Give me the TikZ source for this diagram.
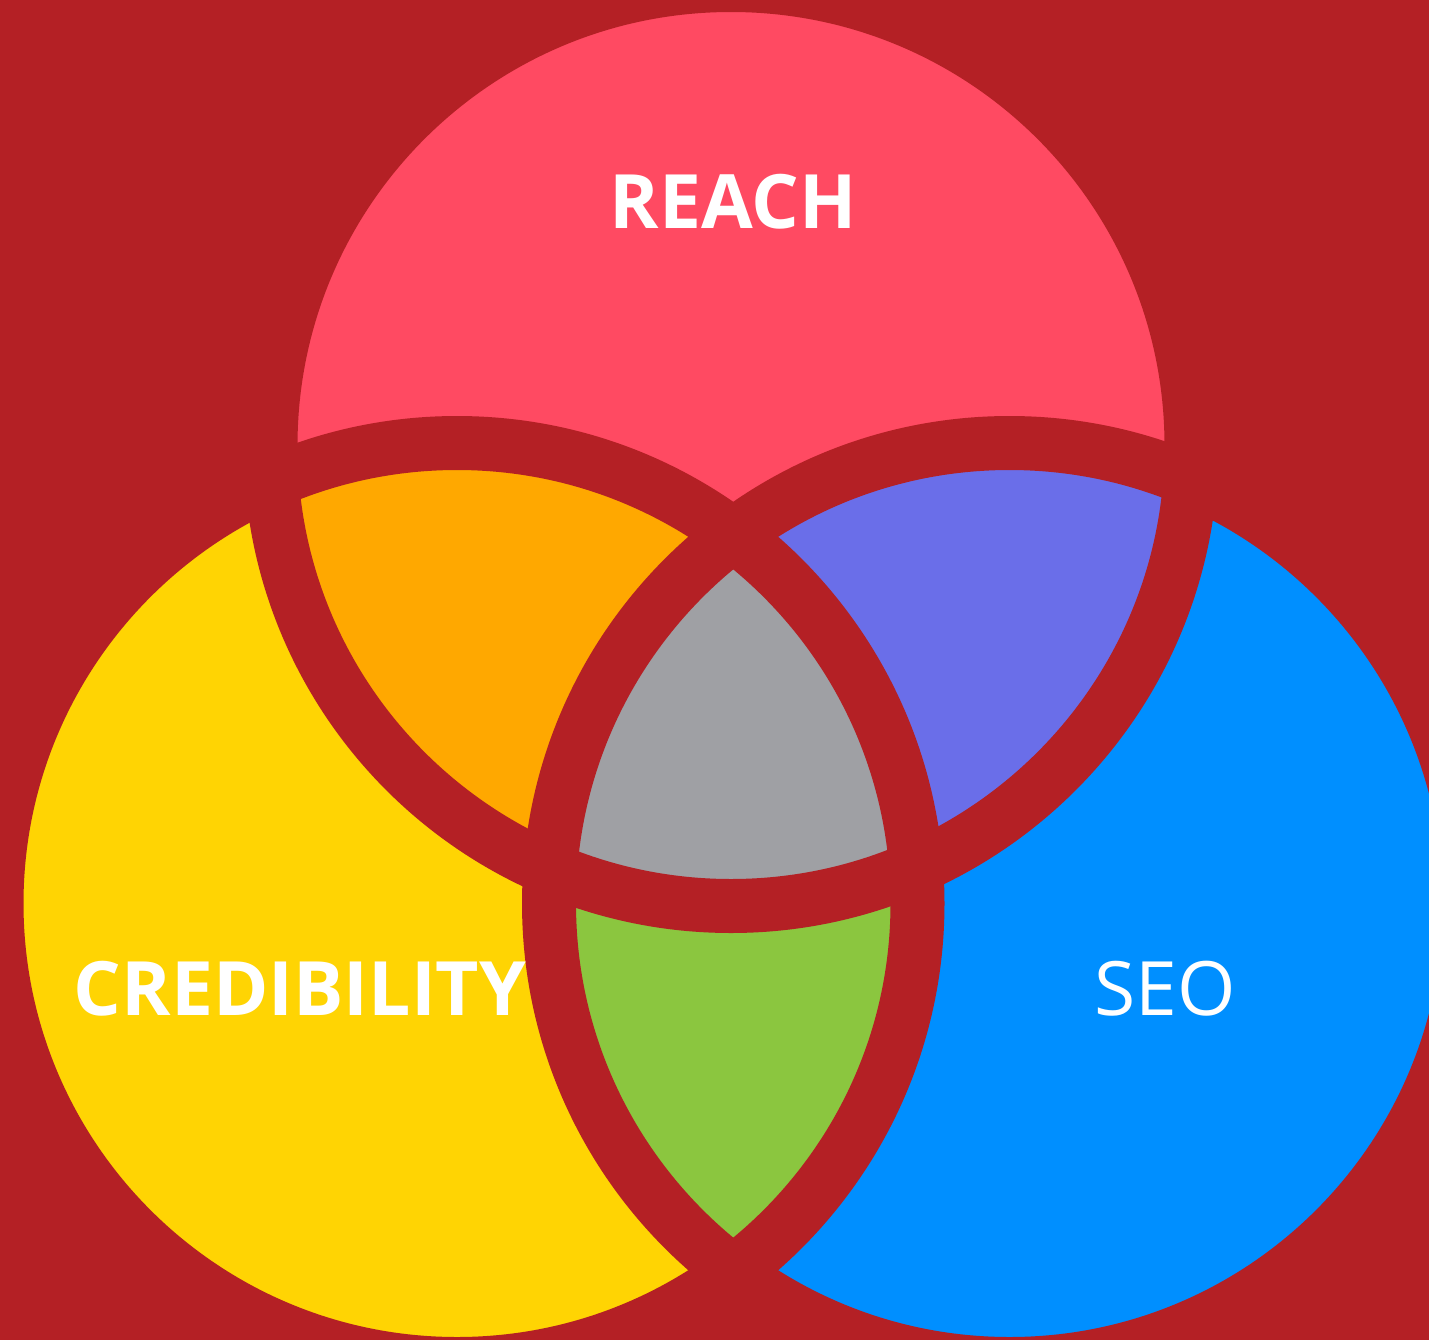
\documentclass[tikz,border=0pt]{standalone}
\usepackage{fontspec}
\setmainfont{Open Sans}
\definecolor{bgred}{HTML}{B42025}
\definecolor{cred}{HTML}{FF4A62}
\definecolor{cyellow}{HTML}{FFD403}
\definecolor{cblue}{HTML}{008FFF}
\definecolor{corange}{HTML}{FFA800}
\definecolor{cpurple}{HTML}{6A6EE9}
\definecolor{cgray}{HTML}{9FA0A4}
\definecolor{cgreen}{HTML}{8BC63F}
\begin{document}
\begin{tikzpicture}[x=1pt,y=-1pt,
  gapline/.style={draw=bgred,line width=54pt},
  lbl/.style={text=white,font=\fontsize{75}{78}\selectfont,inner sep=0pt,anchor=base}]
\useasboundingbox (0,0) rectangle (1429,1339);
\fill[bgred] (-20,-20) rectangle (1449,1359);
\coordinate (T) at (731,445.5);
\coordinate (L) at (457,903.5);
\coordinate (R) at (1009.5,903.5);
\def\rr{460.5}
% single fills
\fill[cred] (T) circle[radius=\rr];
\fill[cyellow] (L) circle[radius=\rr];
\fill[cblue] (R) circle[radius=\rr];
% pairwise
\begin{scope}
  \clip (T) circle[radius=\rr];
  \fill[corange] (L) circle[radius=\rr];
  \fill[cpurple] (R) circle[radius=\rr];
\end{scope}
\begin{scope}
  \clip (L) circle[radius=\rr];
  \fill[cgreen] (R) circle[radius=\rr];
\end{scope}
\begin{scope}
  \clip (T) circle[radius=\rr];
  \clip (L) circle[radius=\rr];
  \fill[cgray] (R) circle[radius=\rr];
\end{scope}
% separating strokes
\draw[gapline] (T) circle[radius=\rr];
\draw[gapline] (L) circle[radius=\rr];
\draw[gapline] (R) circle[radius=\rr];
% labels
\node[lbl,font=\fontsize{75}{78}\selectfont\bfseries] (reach) at (733,228) {REACH};
\node[lbl,font=\fontsize{75}{78}\selectfont\bfseries] (cred) at (300,1015) {CREDIBILITY};
\node[lbl] (seo) at (1165,1015) {SEO};
\end{tikzpicture}
\end{document}
